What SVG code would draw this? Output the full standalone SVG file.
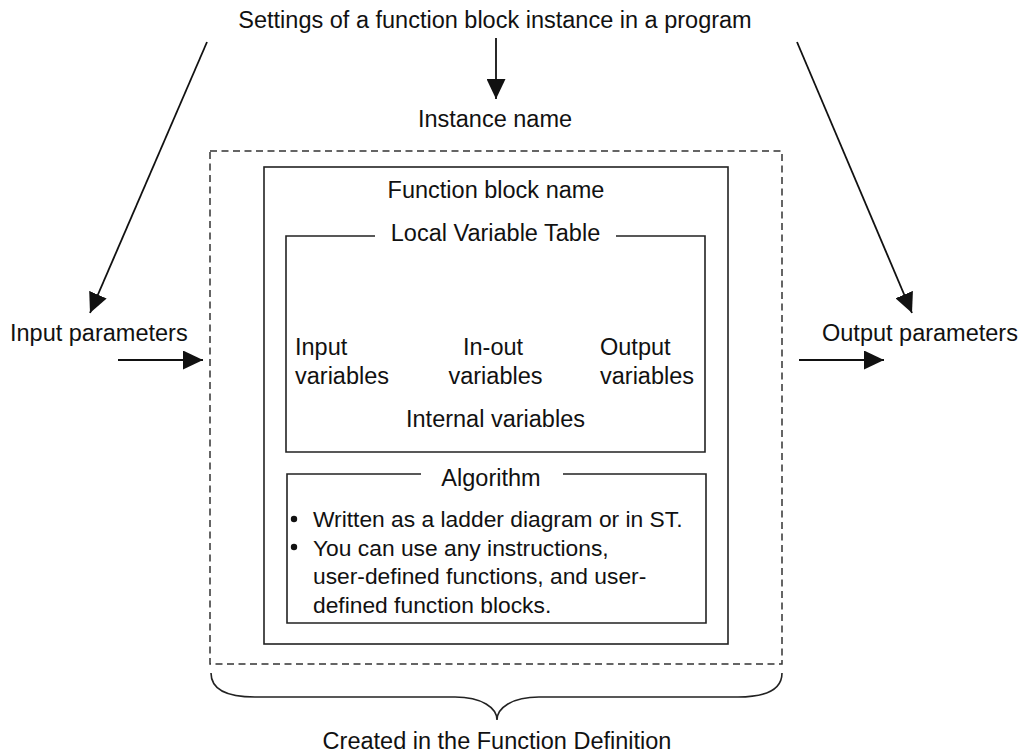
<svg xmlns="http://www.w3.org/2000/svg" width="1026" height="753" viewBox="0 0 1026 753">
  <style>
    text { font-family: "Liberation Sans", Arial, sans-serif; font-size: 23.5px; fill: #111; }
    .c { text-anchor: middle; }
    .b { font-size: 22.8px; }
    .box { fill: none; stroke: #222; stroke-width: 1.6; }
    .dash { fill: none; stroke: #333; stroke-width: 1.5; stroke-dasharray: 7 4.5; }
    .conn { fill: none; stroke: #111; stroke-width: 1.8; marker-end: url(#arrow); }
  </style>
  <defs>
    <marker id="arrow" markerUnits="userSpaceOnUse" markerWidth="21" markerHeight="19" refX="20" refY="9.5" orient="auto">
      <path d="M0,0 L20,9.5 L0,19 Z" fill="#111"/>
    </marker>
  </defs>
  <rect width="1026" height="753" fill="#fff"/>

  <g id="settings">
    <text class="c" x="495" y="28">Settings of a function block instance in a program</text>
  </g>
  <g id="instance-name">
    <text class="c" x="495" y="127">Instance name</text>
  </g>
  <g id="input-parameters">
    <text x="10" y="341">Input parameters</text>
  </g>
  <g id="output-parameters">
    <text x="822" y="341">Output parameters</text>
  </g>

  <g id="instance-box">
    <rect class="dash" x="210" y="151" width="572" height="513"/>
  </g>

  <g id="function-block">
    <rect class="box" x="264" y="167" width="464" height="477"/>
    <text class="c" x="496" y="198">Function block name</text>
  </g>

  <g id="local-variable-table">
    <path class="box" d="M375,236 L286,236 L286,452 L705,452 L705,236 L616,236"/>
    <text class="c" x="495.5" y="241">Local Variable Table</text>
    <text x="295" y="355">Input</text>
    <text x="295" y="384">variables</text>
    <text class="c" x="493" y="355">In-out</text>
    <text class="c" x="495.5" y="384">variables</text>
    <text x="600" y="355">Output</text>
    <text x="600" y="384">variables</text>
    <text class="c" x="495.5" y="427">Internal variables</text>
  </g>

  <g id="algorithm">
    <path class="box" d="M421,474 L287,474 L287,623 L706,623 L706,474 L563,474"/>
    <text class="c" x="491" y="486">Algorithm</text>
    <circle cx="294" cy="519" r="3.2" fill="#111"/>
    <circle cx="294" cy="547" r="3.2" fill="#111"/>
    <text class="b" x="313" y="527">Written as a ladder diagram or in ST.</text>
    <text class="b" x="313" y="555.5">You can use any instructions,</text>
    <text class="b" x="313" y="584">user-defined functions, and user-</text>
    <text class="b" x="313" y="612.5">defined function blocks.</text>
  </g>

  <g id="brace">
    <path d="M211,673 C211,690 228,697 255,697 L455,697 C482,697 497,708 497,720 C497,708 512,697 539,697 L738,697 C765,697 782,690 782,673" fill="none" stroke="#222" stroke-width="1.6"/>
  </g>
  <g id="created-label">
    <text class="c" x="497" y="749">Created in the Function Definition</text>
  </g>

  <g id="connectors">
    <path class="conn" d="M496,38 L496,99"/>
    <path class="conn" d="M207,42 L90,313"/>
    <path class="conn" d="M797,42 L912,313"/>
    <path class="conn" d="M118,360 L203,360"/>
    <path class="conn" d="M799,360 L884,360"/>
  </g>
</svg>
